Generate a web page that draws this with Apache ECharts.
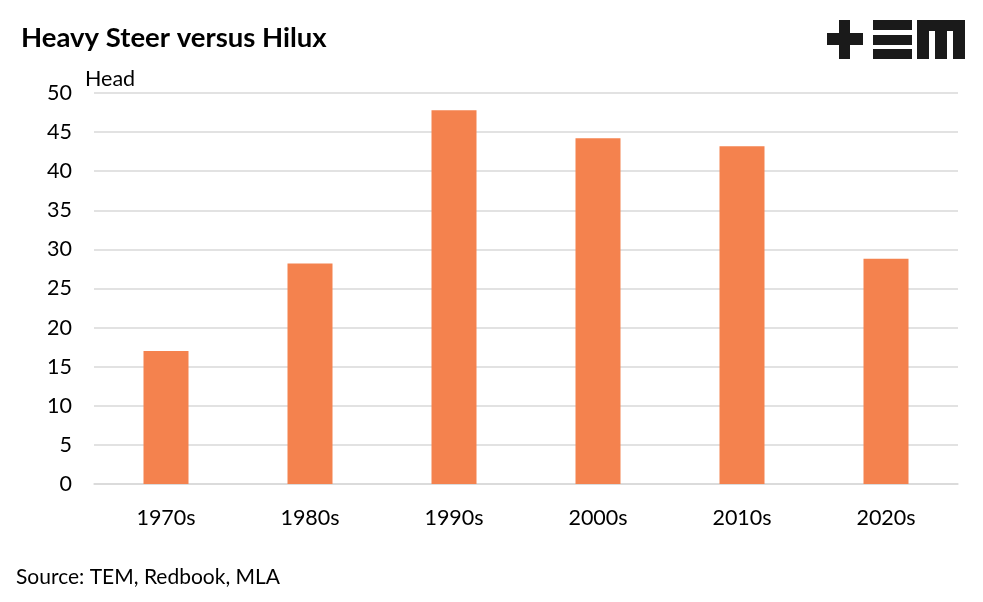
<!DOCTYPE html>
<html>
<head>
<meta charset="utf-8">
<script src="https://cdn.jsdelivr.net/npm/echarts@6/dist/echarts.min.js"></script>
<style>html,body{margin:0;padding:0;background:#fff;}#c{width:983px;height:602px;}</style>
</head>
<body>
<div id="c"></div>
<script>
const categories = ['1970s', '1980s', '1990s', '2000s', '2010s', '2020s'];
const headValues = [17.0, 28.2, 47.8, 44.2, 43.2, 28.8];
const yTicks = { min: 0, max: 50, interval: 5 };

const FONT = 'Lato, "Open Sans", sans-serif';
const chart = echarts.init(document.getElementById('c'), null, { renderer: 'canvas' });
const black = '#1a1a1a';

chart.setOption({
  animation: false,
  backgroundColor: '#ffffff',
  textStyle: { fontFamily: FONT },
  title: {
    text: 'Heavy Steer versus Hilux',
    left: 16, top: 19,
    textStyle: { fontFamily: FONT, fontWeight: 'bold', fontSize: 27.5, color: '#000' }
  },
  grid: { left: 94, right: 25, top: 93, bottom: 118, containLabel: false },
  xAxis: {
    type: 'category',
    data: categories,
    axisLine: { show: true, lineStyle: { color: '#d9d9d9', width: 1.5 } },
    axisTick: { show: false },
    axisLabel: { color: '#000', fontSize: 21.5, fontFamily: FONT, margin: 23 }
  },
  yAxis: {
    type: 'value',
    min: yTicks.min, max: yTicks.max, interval: yTicks.interval,
    name: 'Head',
    nameLocation: 'end',
    nameGap: 3,
    nameTextStyle: { color: '#000', fontSize: 21.5, fontFamily: FONT, align: 'left', padding: [0, 0, 0, -9] },
    axisLine: { show: false },
    axisTick: { show: false },
    axisLabel: { color: '#000', fontSize: 21.5, fontFamily: FONT, margin: 22 },
    splitLine: { lineStyle: { color: '#d9d9d9', width: 1.5 } }
  },
  series: [{
    type: 'bar',
    data: headValues,
    barWidth: 45,
    itemStyle: { color: '#f4824e' }
  }],
  graphic: [
    { type: 'text', left: 16, top: 567, style: { text: 'Source: TEM, Redbook, MLA', fill: '#000', font: '21px ' + FONT } },
    // TEM logo
    { type: 'group', left: 827, top: 20, children: [
      { type: 'rect', shape: { x: 0, y: 13, width: 36, height: 12 }, style: { fill: black } },
      { type: 'rect', shape: { x: 12, y: 0, width: 11, height: 39 }, style: { fill: black } },
      { type: 'rect', shape: { x: 46, y: 0, width: 39, height: 10 }, style: { fill: black } },
      { type: 'rect', shape: { x: 46, y: 15, width: 39, height: 10 }, style: { fill: black } },
      { type: 'rect', shape: { x: 46, y: 29, width: 39, height: 10 }, style: { fill: black } },
      { type: 'rect', shape: { x: 90, y: 0, width: 48, height: 11 }, style: { fill: black } },
      { type: 'rect', shape: { x: 90, y: 0, width: 12, height: 39 }, style: { fill: black } },
      { type: 'rect', shape: { x: 108, y: 0, width: 12, height: 39 }, style: { fill: black } },
      { type: 'rect', shape: { x: 126, y: 0, width: 12, height: 39 }, style: { fill: black } }
    ]}
  ]
});
</script>
</body>
</html>
